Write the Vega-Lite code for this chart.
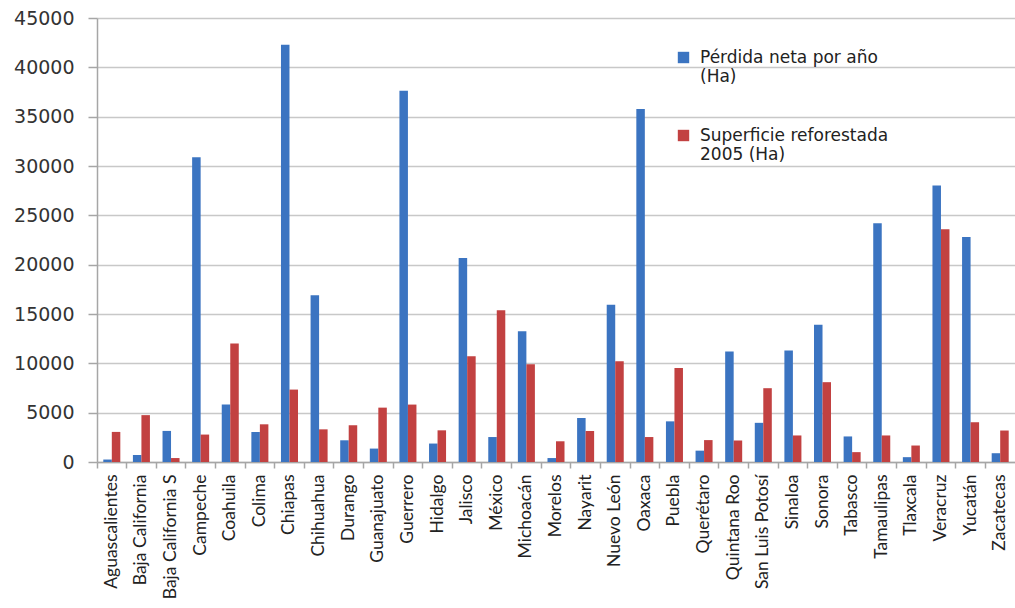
{
  "$schema": "https://vega.github.io/schema/vega-lite/v6.json",
  "width": 918,
  "height": 444,
  "autosize": {"type": "none"},
  "padding": {"left": 97, "top": 18, "right": 0, "bottom": 146},
  "background": "white",
  "config": {"view": {"stroke": null}},
  "data": {"values": [
    {"estado": "Aguascalientes", "serie": "Pérdida neta por año (Ha)", "valor": 250},
    {"estado": "Aguascalientes", "serie": "Superficie reforestada 2005 (Ha)", "valor": 3050},
    {"estado": "Baja California", "serie": "Pérdida neta por año (Ha)", "valor": 700},
    {"estado": "Baja California", "serie": "Superficie reforestada 2005 (Ha)", "valor": 4750},
    {"estado": "Baja California S", "serie": "Pérdida neta por año (Ha)", "valor": 3150},
    {"estado": "Baja California S", "serie": "Superficie reforestada 2005 (Ha)", "valor": 400},
    {"estado": "Campeche", "serie": "Pérdida neta por año (Ha)", "valor": 30880},
    {"estado": "Campeche", "serie": "Superficie reforestada 2005 (Ha)", "valor": 2780},
    {"estado": "Coahuila", "serie": "Pérdida neta por año (Ha)", "valor": 5820},
    {"estado": "Coahuila", "serie": "Superficie reforestada 2005 (Ha)", "valor": 12000},
    {"estado": "Colima", "serie": "Pérdida neta por año (Ha)", "valor": 3040},
    {"estado": "Colima", "serie": "Superficie reforestada 2005 (Ha)", "valor": 3820},
    {"estado": "Chiapas", "serie": "Pérdida neta por año (Ha)", "valor": 42300},
    {"estado": "Chiapas", "serie": "Superficie reforestada 2005 (Ha)", "valor": 7340},
    {"estado": "Chihuahua", "serie": "Pérdida neta por año (Ha)", "valor": 16900},
    {"estado": "Chihuahua", "serie": "Superficie reforestada 2005 (Ha)", "valor": 3310},
    {"estado": "Durango", "serie": "Pérdida neta por año (Ha)", "valor": 2200},
    {"estado": "Durango", "serie": "Superficie reforestada 2005 (Ha)", "valor": 3720},
    {"estado": "Guanajuato", "serie": "Pérdida neta por año (Ha)", "valor": 1360},
    {"estado": "Guanajuato", "serie": "Superficie reforestada 2005 (Ha)", "valor": 5510},
    {"estado": "Guerrero", "serie": "Pérdida neta por año (Ha)", "valor": 37630},
    {"estado": "Guerrero", "serie": "Superficie reforestada 2005 (Ha)", "valor": 5820},
    {"estado": "Hidalgo", "serie": "Pérdida neta por año (Ha)", "valor": 1870},
    {"estado": "Hidalgo", "serie": "Superficie reforestada 2005 (Ha)", "valor": 3210},
    {"estado": "Jalisco", "serie": "Pérdida neta por año (Ha)", "valor": 20680},
    {"estado": "Jalisco", "serie": "Superficie reforestada 2005 (Ha)", "valor": 10710},
    {"estado": "México", "serie": "Pérdida neta por año (Ha)", "valor": 2530},
    {"estado": "México", "serie": "Superficie reforestada 2005 (Ha)", "valor": 15380},
    {"estado": "Michoacán", "serie": "Pérdida neta por año (Ha)", "valor": 13250},
    {"estado": "Michoacán", "serie": "Superficie reforestada 2005 (Ha)", "valor": 9900},
    {"estado": "Morelos", "serie": "Pérdida neta por año (Ha)", "valor": 400},
    {"estado": "Morelos", "serie": "Superficie reforestada 2005 (Ha)", "valor": 2100},
    {"estado": "Nayarit", "serie": "Pérdida neta por año (Ha)", "valor": 4460},
    {"estado": "Nayarit", "serie": "Superficie reforestada 2005 (Ha)", "valor": 3140},
    {"estado": "Nuevo León", "serie": "Pérdida neta por año (Ha)", "valor": 15950},
    {"estado": "Nuevo León", "serie": "Superficie reforestada 2005 (Ha)", "valor": 10200},
    {"estado": "Oaxaca", "serie": "Pérdida neta por año (Ha)", "valor": 35780},
    {"estado": "Oaxaca", "serie": "Superficie reforestada 2005 (Ha)", "valor": 2530},
    {"estado": "Puebla", "serie": "Pérdida neta por año (Ha)", "valor": 4120},
    {"estado": "Puebla", "serie": "Superficie reforestada 2005 (Ha)", "valor": 9530},
    {"estado": "Querétaro", "serie": "Pérdida neta por año (Ha)", "valor": 1150},
    {"estado": "Querétaro", "serie": "Superficie reforestada 2005 (Ha)", "valor": 2220},
    {"estado": "Quintana Roo", "serie": "Pérdida neta por año (Ha)", "valor": 11200},
    {"estado": "Quintana Roo", "serie": "Superficie reforestada 2005 (Ha)", "valor": 2180},
    {"estado": "San Luis Potosí", "serie": "Pérdida neta por año (Ha)", "valor": 3970},
    {"estado": "San Luis Potosí", "serie": "Superficie reforestada 2005 (Ha)", "valor": 7480},
    {"estado": "Sinaloa", "serie": "Pérdida neta por año (Ha)", "valor": 11300},
    {"estado": "Sinaloa", "serie": "Superficie reforestada 2005 (Ha)", "valor": 2690},
    {"estado": "Sonora", "serie": "Pérdida neta por año (Ha)", "valor": 13900},
    {"estado": "Sonora", "serie": "Superficie reforestada 2005 (Ha)", "valor": 8090},
    {"estado": "Tabasco", "serie": "Pérdida neta por año (Ha)", "valor": 2590},
    {"estado": "Tabasco", "serie": "Superficie reforestada 2005 (Ha)", "valor": 1000},
    {"estado": "Tamaulipas", "serie": "Pérdida neta por año (Ha)", "valor": 24200},
    {"estado": "Tamaulipas", "serie": "Superficie reforestada 2005 (Ha)", "valor": 2690},
    {"estado": "Tlaxcala", "serie": "Pérdida neta por año (Ha)", "valor": 490},
    {"estado": "Tlaxcala", "serie": "Superficie reforestada 2005 (Ha)", "valor": 1670},
    {"estado": "Veracruz", "serie": "Pérdida neta por año (Ha)", "valor": 28030},
    {"estado": "Veracruz", "serie": "Superficie reforestada 2005 (Ha)", "valor": 23590},
    {"estado": "Yucatán", "serie": "Pérdida neta por año (Ha)", "valor": 22810},
    {"estado": "Yucatán", "serie": "Superficie reforestada 2005 (Ha)", "valor": 4030},
    {"estado": "Zacatecas", "serie": "Pérdida neta por año (Ha)", "valor": 890},
    {"estado": "Zacatecas", "serie": "Superficie reforestada 2005 (Ha)", "valor": 3190}
  ]},
  "mark": {"type": "bar"},
  "encoding": {
    "x": {
      "field": "estado", "type": "nominal", "sort": null,
      "scale": {"paddingInner": 0, "paddingOuter": 0},
      "axis": {
        "title": null, "labelAngle": -90, "bandPosition": 0,
        "labelFont": "Lato", "labelFontSize": 17.5, "labelColor": "#222222",
        "labelPadding": 6, "tickSize": 6, "tickColor": "#A6A6A6", "domainColor": "#A6A6A6",
        "domainWidth": 1.5, "tickWidth": 1.5, "grid": false
      }
    },
    "xOffset": {
      "field": "serie", "type": "nominal",
      "scale": {"domain": ["Pérdida neta por año (Ha)", "Superficie reforestada 2005 (Ha)"], "paddingInner": 0, "paddingOuter": 0.74}
    },
    "y": {
      "field": "valor", "type": "quantitative",
      "scale": {"domain": [0, 45000], "nice": false},
      "axis": {
        "title": null, "values": [0, 5000, 10000, 15000, 20000, 25000, 30000, 35000, 40000, 45000],
        "format": "d", "labelFont": "DejaVu Sans", "labelFontSize": 19, "labelColor": "#333333",
        "labelPadding": 14, "tickSize": 9, "tickColor": "#A6A6A6", "tickWidth": 1.5,
        "domainColor": "#A6A6A6", "domainWidth": 1.5,
        "grid": true, "gridColor": "#C8C8C8", "gridWidth": 1.5
      }
    },
    "color": {
      "field": "serie", "type": "nominal",
      "scale": {"domain": ["Pérdida neta por año (Ha)", "Superficie reforestada 2005 (Ha)"], "range": ["#3B74C1", "#C24141"]},
      "legend": {
        "title": null, "orient": "none", "legendX": 578, "legendY": 31,
        "symbolType": "square", "symbolSize": 130, "symbolStrokeWidth": 0,
        "labelFont": "DejaVu Sans", "labelFontSize": 17, "labelColor": "#222222",
        "labelLimit": 400, "rowPadding": 41, "labelOffset": 8, "padding": 0,
        "labelExpr": "datum.label == 'Pérdida neta por año (Ha)' ? ['Pérdida neta por año', '(Ha)'] : ['Superficie reforestada', '2005 (Ha)']"
      }
    }
  }
}
